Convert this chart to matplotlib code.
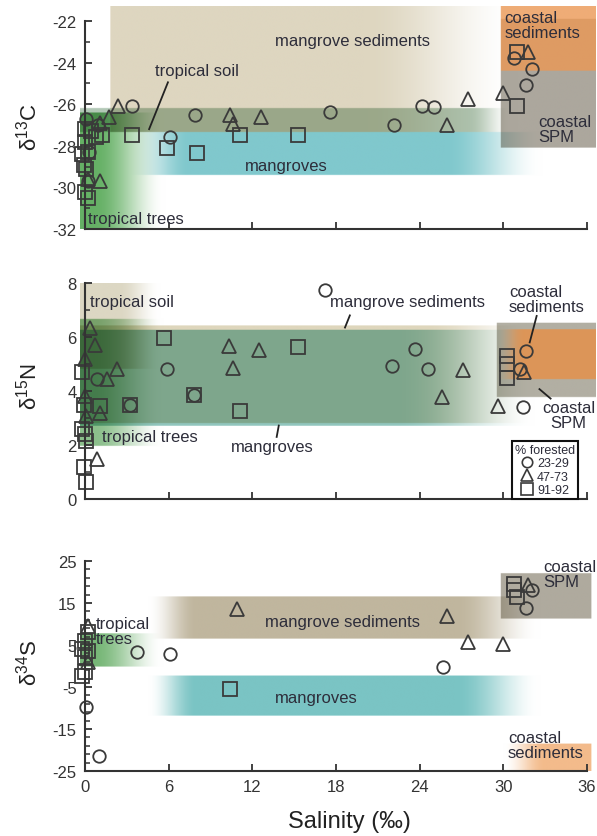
import numpy as np
import matplotlib
matplotlib.use("Agg")
import matplotlib.pyplot as plt
from matplotlib.lines import Line2D
from matplotlib.ticker import FixedLocator

plt.rcParams['font.family'] = ['Liberation Sans', 'DejaVu Sans']
plt.rcParams['mathtext.fontset'] = 'custom'
plt.rcParams['mathtext.rm'] = 'Liberation Sans'
plt.rcParams['mathtext.it'] = 'Liberation Sans:italic'

# ---- delta 13C (x = salinity) ----
c13_circ_x = [0.1, 3.4, 0.9, 6.1, 7.9, 17.6, 22.2, 24.2, 25.0, 31.6, 32.1, 30.8, 0.3, 0.2]
c13_circ_y = [-26.7, -26.1, -27.0, -27.6, -26.5, -26.4, -27.0, -26.1, -26.15, -25.1, -24.3, -23.8, -28.3, -29.7]
c13_tri_x = [2.4, 1.7, 1.1, 10.4, 10.6, 12.6, 26.0, 27.5, 30.0, 31.8, 1.1, 0.2]
c13_tri_y = [-26.1, -26.6, -26.9, -26.5, -26.95, -26.6, -27.0, -25.75, -25.45, -23.5, -29.7, -29.6]
c13_sq_x = [0.0, 0.4, 1.2, 0.8, 3.4, 5.9, 8.0, 11.1, 15.3, 31.0, 31.0, 0.0, -0.2, 0.2, -0.1, 0.1, 0.0, 0.2]
c13_sq_y = [-27.2, -27.3, -27.5, -27.6, -27.5, -28.1, -28.35, -27.5, -27.5, -23.5, -26.1, -27.8, -28.4, -28.3, -28.9, -29.1, -30.2, -30.5]

# ---- delta 15N ----
n15_circ_x = [17.2, 23.7, 22.0, 24.6, 31.6, 31.2, 31.4, 5.9, 0.85, 3.2, 7.8]
n15_circ_y = [7.75, 5.57, 4.94, 4.83, 5.5, 4.8, 3.4, 4.8, 4.43, 3.5, 3.84]
n15_tri_x = [0.36, 0.7, 0.0, 1.6, 2.3, 10.3, 10.6, 12.5, 0.0, 1.1, 0.1, 0.85, 27.1, 25.6, 29.6, 31.5]
n15_tri_y = [6.35, 5.72, 5.17, 4.43, 4.8, 5.68, 4.87, 5.53, 3.8, 3.2, 3.06, 1.48, 4.76, 3.76, 3.43, 4.7]
n15_sq_x = [-0.2, 5.7, 15.3, 3.2, 7.8, 11.1, 1.1, -0.1, -0.2, 0.0, 0.1, -0.1, 0.1, 30.3, 30.3, 30.3]
n15_sq_y = [4.72, 5.98, 5.64, 3.5, 3.84, 3.25, 3.43, 3.5, 2.58, 2.4, 2.14, 1.18, 0.63, 5.3, 5.0, 4.5]

# ---- delta 34S ----
s34_circ_x = [3.7, 6.1, 0.07, 1.0, 25.7, 31.6, 32.1]
s34_circ_y = [3.3, 2.9, -9.8, -21.4, -0.2, 13.8, 18.0]
s34_tri_x = [10.9, 26.0, 27.5, 30.0, 0.2, 0.2, 31.8]
s34_tri_y = [13.6, 11.9, 5.7, 5.2, 9.5, 1.0, 19.3]
s34_sq_x = [10.4, 0.2, 0.0, -0.2, 0.2, 0.0, -0.2, 0.0, 30.8, 30.8, 31.0]
s34_sq_y = [-5.5, 8.1, 6.0, 4.0, 3.6, 2.1, -2.4, -1.4, 19.5, 18.2, 16.4]

# source ranges: x0, x1, y0, y1, rgb, opacity, fade in, fade out, blend
c13_bands = [
    (1.8, 31.0, -27.35, -21.3, (222, 214, 192), 1.0, 0.0, 11.0, 'mul'),  # mangrove sediments
    (-0.35, 30.5, -27.35, -26.2, (178, 200, 182), 1.0, 0.0, 3.0, 'mul'),  # tropical soil
    (3.0, 32.8, -29.4, -27.35, (128, 200, 205), 1.0, 4.5, 7.0, 'mul'),    # mangroves
    (-0.35, 5.7, -32.0, -26.4, (85, 168, 85), 0.9, 0.0, 5.0, 'mul'),      # tropical trees
    (29.8, 36.6, -28.1, -21.9, (172, 167, 157), 1.0, 0.0, 0.0, 'mul'),    # coastal SPM
    (29.8, 36.6, -24.4, -21.3, (235, 152, 85), 0.8, 0.0, 0.0, 'norm'),    # coastal sediments
]
n15_bands = [
    (-0.35, 5.4, 4.8, 8.0, (220, 215, 195), 1.0, 0.0, 3.0, 'mul'),       # tropical soil
    (-0.35, 32.2, 2.8, 6.4, (222, 214, 188), 1.0, 0.0, 8.0, 'mul'),      # mangrove sediments
    (-0.35, 32.2, 2.7, 6.25, (145, 198, 190), 1.0, 0.0, 10.0, 'mul'),    # mangroves
    (-0.35, 5.6, 1.95, 6.65, (110, 175, 110), 0.8, 0.0, 5.0, 'mul'),     # tropical trees
    (29.5, 36.6, 3.76, 6.5, (178, 175, 163), 1.0, 0.0, 0.0, 'mul'),      # coastal SPM
    (29.5, 36.6, 4.43, 6.27, (228, 145, 75), 0.85, 2.0, 0.0, 'norm'),    # coastal sediments
]
s34_bands = [
    (4.5, 32.6, 6.4, 16.4, (192, 182, 158), 1.0, 3.5, 6.0, 'mul'),       # mangrove sediments
    (4.5, 32.6, -11.9, -2.4, (122, 196, 196), 1.0, 3.5, 6.0, 'mul'),     # mangroves
    (-0.35, 5.6, -0.2, 7.6, (95, 170, 95), 0.85, 0.0, 5.0, 'mul'),       # tropical trees
    (29.8, 36.3, 11.2, 21.9, (175, 170, 158), 1.0, 0.0, 0.0, 'mul'),     # coastal SPM
    (30.0, 36.3, -25.0, -18.6, (240, 170, 110), 0.8, 3.0, 0.0, 'norm'),  # coastal sediments
]

XLIM = (-0.35, 36.6)
TXT = '#2d2d3a'
EDGE = '#3a3a3a'


def smooth(t):
    t = np.clip(t, 0, 1)
    return t * t * (3 - 2 * t)


def draw_bands(ax, bands, ylim):
    nx, ny = 900, 400
    xs = np.linspace(XLIM[0], XLIM[1], nx)
    ys = np.linspace(ylim[0], ylim[1], ny)
    X, Y = np.meshgrid(xs, ys)
    img = np.ones((ny, nx, 3))
    for x0, x1, y0, y1, col, amax, fin, fout, mode in bands:
        c = np.array(col) / 255.0
        ramp = np.ones_like(X)
        if fin > 0:
            ramp *= smooth((X - x0) / fin)
        if fout > 0:
            ramp *= smooth((x1 - X) / fout)
        inside = (X >= x0) & (X <= x1) & (Y >= y0) & (Y <= y1)
        a = np.where(inside, amax * ramp, 0.0)[..., None]
        if mode == 'mul':
            img = img * (1 - a * (1 - c))
        else:
            img = img * (1 - a) + c * a
    ax.imshow(img, origin='lower', extent=(XLIM[0], XLIM[1], ylim[0], ylim[1]),
              aspect='auto', interpolation='bilinear', zorder=0)


def draw_points(ax, cx, cy, tx, ty, sx, sy):
    kw = dict(linestyle='none', mfc='none', mec=EDGE, mew=1.3, clip_on=False, zorder=3)
    ax.plot(cx, cy, marker='o', ms=9, **kw)
    ax.plot(tx, ty, marker='^', ms=9.5, **kw)
    ax.plot(sx, sy, marker='s', ms=9.5, **kw)


def style_axis(ax, ylim, ybounds, majors, minors, xlabels):
    ax.set_xlim(*XLIM)
    ax.set_ylim(*ylim)
    for s in ['top', 'right']:
        ax.spines[s].set_visible(False)
    ax.spines['left'].set_position(('data', 0))
    ax.spines['left'].set_bounds(*ybounds)
    ax.spines['bottom'].set_bounds(0, 36)
    for s in ['left', 'bottom']:
        ax.spines[s].set_color('#333333')
        ax.spines[s].set_linewidth(1.5)
        ax.spines[s].set_zorder(4)
    ax.yaxis.set_major_locator(FixedLocator(majors))
    ax.yaxis.set_minor_locator(FixedLocator(minors))
    ax.xaxis.set_major_locator(FixedLocator(range(0, 37, 6)))
    ax.tick_params(axis='both', which='major', direction='in', length=5, width=1.3,
                   color='#333333', labelsize=12, labelcolor='#333333', pad=6)
    ax.tick_params(axis='y', which='minor', direction='in', length=3.5, width=1.1, color='#333333')
    ax.set_yticklabels([str(v) for v in majors])
    if not xlabels:
        ax.set_xticklabels([])


fig = plt.figure(figsize=(5.97, 8.37), dpi=100)
ax1 = fig.add_axes([0.1342, 0.7252, 0.8628, 0.2660])
ax2 = fig.add_axes([0.1342, 0.4026, 0.8628, 0.2581])
ax3 = fig.add_axes([0.1342, 0.0777, 0.8628, 0.2509])

lab = dict(fontsize=12, color=TXT, zorder=5)
line_kw = dict(color='#222222', lw=1.3, zorder=5)

# panel 1
draw_bands(ax1, c13_bands, (-32, -21.3))
draw_points(ax1, c13_circ_x, c13_circ_y, c13_tri_x, c13_tri_y, c13_sq_x, c13_sq_y)
style_axis(ax1, (-32, -21.3), (-32, -22), list(range(-32, -21, 2)), list(range(-31, -22, 2)), False)
ax1.text(13.6, -22.95, 'mangrove sediments', ha='left', va='center', **lab)
ax1.text(5.0, -24.4, 'tropical soil', ha='left', va='center', **lab)
ax1.plot([5.95, 4.6], [-24.95, -27.2], **line_kw)
ax1.text(11.5, -28.97, 'mangroves', ha='left', va='center', **lab)
ax1.text(0.2, -31.5, 'tropical trees', ha='left', va='center', **lab)
ax1.text(30.1, -22.2, 'coastal\nsediments', ha='left', va='center', linespacing=1.0, **lab)
ax1.text(32.5, -27.2, 'coastal\nSPM', ha='left', va='center', linespacing=1.0, **lab)

# panel 2
draw_bands(ax2, n15_bands, (0, 8.0))
draw_points(ax2, n15_circ_x, n15_circ_y, n15_tri_x, n15_tri_y, n15_sq_x, n15_sq_y)
style_axis(ax2, (0, 8.0), (0, 8), list(range(0, 9, 2)), list(range(1, 8, 2)), False)
ax2.text(0.36, 7.3, 'tropical soil', ha='left', va='center', **lab)
ax2.text(1.2, 2.33, 'tropical trees', ha='left', va='center', **lab)
ax2.text(10.5, 1.96, 'mangroves', ha='left', va='center', **lab)
ax2.plot([13.9, 13.75], [2.72, 2.3], **line_kw)
ax2.text(17.6, 7.3, 'mangrove sediments', ha='left', va='center', **lab)
ax2.plot([19.0, 18.65], [6.8, 6.35], **line_kw)
ax2.text(30.4, 7.4, 'coastal\nsediments', ha='left', va='center', linespacing=1.0, **lab)
ax2.plot([32.4, 31.9], [6.78, 5.8], **line_kw)
ax2.text(34.7, 3.13, 'coastal\nSPM', ha='center', va='center', linespacing=1.0, **lab)
ax2.plot([32.6, 33.4], [4.07, 3.72], **line_kw)

handles = [
    Line2D([], [], linestyle='none', marker='o', ms=7.5, mfc='none', mec=EDGE, mew=1.2),
    Line2D([], [], linestyle='none', marker='^', ms=8, mfc='none', mec=EDGE, mew=1.2),
    Line2D([], [], linestyle='none', marker='s', ms=8, mfc='none', mec=EDGE, mew=1.2),
]
leg = ax2.legend(handles, ['23-29', '47-73', '91-92'], title='% forested',
                 loc='lower right', bbox_to_anchor=(0.967, 0.0), fontsize=9,
                 title_fontsize=9, frameon=True, fancybox=False, framealpha=1,
                 edgecolor='#111111', borderpad=0.25, labelspacing=0.1,
                 handletextpad=0.3, handlelength=1.0, borderaxespad=0.0)
leg.get_frame().set_linewidth(1.5)
leg.set_zorder(6)
for t in leg.get_texts():
    t.set_color(TXT)
leg.get_title().set_color(TXT)

# panel 3
draw_bands(ax3, s34_bands, (-25, 25))
draw_points(ax3, s34_circ_x, s34_circ_y, s34_tri_x, s34_tri_y, s34_sq_x, s34_sq_y)
style_axis(ax3, (-25, 25), (-25, 25), [-25, -15, -5, 5, 15, 25], list(range(-25, 26, 2)), True)
ax3.text(0.8, 8.35, 'tropical\ntrees', ha='left', va='center', linespacing=1.0, **lab)
ax3.text(12.9, 10.7, 'mangrove sediments', ha='left', va='center', **lab)
ax3.text(13.6, -7.4, 'mangroves', ha='left', va='center', **lab)
ax3.text(32.9, 21.9, 'coastal\nSPM', ha='left', va='center', linespacing=1.0, **lab)
ax3.text(30.35, -18.85, 'coastal\nsediments', ha='left', va='center', linespacing=1.0, **lab)

# axis titles
fig.text(0.047, 0.848, r'$\mathregular{\delta^{13}C}$', rotation=90, ha='center', va='center',
         fontsize=16, color='#222222')
fig.text(0.047, 0.538, r'$\mathregular{\delta^{15}N}$', rotation=90, ha='center', va='center',
         fontsize=16, color='#222222')
fig.text(0.047, 0.208, r'$\mathregular{\delta^{34}S}$', rotation=90, ha='center', va='center',
         fontsize=16, color='#222222')
fig.text(0.585, 0.018, 'Salinity (‰)', ha='center', va='center', fontsize=17, color='#222222')

fig.savefig('out.png', dpi=100)
